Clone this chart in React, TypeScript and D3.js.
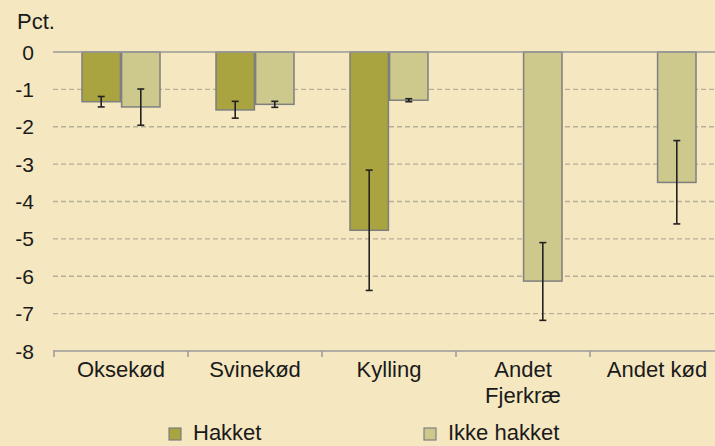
import { useEffect, useRef } from "react";
import * as d3 from "d3";

const categories = ["Oksekød", "Svinekød", "Kylling", "Andet\nFjerkræ", "Andet kød"];
const seriesNames = ["Hakket", "Ikke hakket"];
// mean change (pct.) and error-bar ends
const hakket: (number | null)[] = [-1.33, -1.55, -4.77, null, null];
const hakketLow: (number | null)[] = [-1.47, -1.77, -6.38, null, null];
const hakketHigh: (number | null)[] = [-1.19, -1.32, -3.16, null, null];
const ikkeHakket: (number | null)[] = [-1.47, -1.4, -1.29, -6.13, -3.49];
const ikkeLow: (number | null)[] = [-1.96, -1.48, -1.33, -7.18, -4.6];
const ikkeHigh: (number | null)[] = [-0.99, -1.32, -1.25, -5.1, -2.37];
const yTicks = [0, -1, -2, -3, -4, -5, -6, -7, -8];

const W = 715;
const H = 446;
const colors = ["#A9A43F", "#CDC98D"];
const font = "'Liberation Sans', Arial, sans-serif";

export default function App() {
  const ref = useRef<SVGSVGElement | null>(null);

  useEffect(() => {
    const svg = d3.select(ref.current);
    svg.selectAll("*").remove();

    svg.append("rect").attr("width", W).attr("height", H).attr("fill", "#F5E7C0");

    const y = d3.scaleLinear().domain([-8, 0]).range([351, 52]);
    const x = d3.scaleBand<string>().domain(categories).range([54, 54 + 5 * 134]);
    const sub = d3.scaleBand<string>().domain(seriesNames).range([28, 106]).paddingInner(0.03);

    // gridlines
    yTicks.forEach((t) => {
      if (t === 0 || t === -8) return;
      svg.append("line")
        .attr("x1", 53).attr("x2", W)
        .attr("y1", y(t)).attr("y2", y(t))
        .attr("stroke", "#B8AF98")
        .attr("stroke-width", 1.3)
        .attr("stroke-dasharray", "5 3");
    });

    // y labels
    yTicks.forEach((t) => {
      svg.append("text")
        .attr("x", 34).attr("y", y(t) + 7.5)
        .attr("text-anchor", "end")
        .attr("font-family", font).attr("font-size", 21)
        .attr("fill", "#1a1a1a")
        .text(String(t));
    });
    svg.append("text")
      .attr("x", 17).attr("y", 29)
      .attr("font-family", font).attr("font-size", 22)
      .attr("fill", "#1a1a1a")
      .text("Pct.");

    // bottom axis
    svg.append("line")
      .attr("x1", 53).attr("x2", W)
      .attr("y1", y(-8)).attr("y2", y(-8))
      .attr("stroke", "#9A9A9A").attr("stroke-width", 1.5);
    categories.forEach((c) => {
      const x0 = x(c) ?? 0;
      svg.append("line")
        .attr("x1", x0).attr("x2", x0)
        .attr("y1", y(-8)).attr("y2", y(-8) + 6)
        .attr("stroke", "#9A9A9A").attr("stroke-width", 1.5);
      const lines = c.split("\n");
      lines.forEach((ln, i) => {
        svg.append("text")
          .attr("x", x0 + x.bandwidth() / 2)
          .attr("y", 377 + i * 26)
          .attr("text-anchor", "middle")
          .attr("font-family", font).attr("font-size", 22)
          .attr("fill", "#1a1a1a")
          .text(ln);
      });
    });

    // bars
    const series = [
      { name: seriesNames[0], v: hakket, lo: hakketLow, hi: hakketHigh },
      { name: seriesNames[1], v: ikkeHakket, lo: ikkeLow, hi: ikkeHigh },
    ];
    series.forEach((s, si) => {
      categories.forEach((c, ci) => {
        const v = s.v[ci];
        if (v == null) return;
        const bx = (x(c) ?? 0) + (sub(s.name) ?? 0);
        svg.append("rect")
          .attr("x", bx).attr("y", y(0))
          .attr("width", sub.bandwidth())
          .attr("height", y(v) - y(0))
          .attr("fill", colors[si])
          .attr("stroke", "#7F7F7F").attr("stroke-width", 1.5);
      });
    });

    // zero line
    svg.append("line")
      .attr("x1", 53).attr("x2", W)
      .attr("y1", y(0)).attr("y2", y(0))
      .attr("stroke", "#9A9A9A").attr("stroke-width", 1.5);

    // error bars
    series.forEach((s) => {
      categories.forEach((c, ci) => {
        const lo = s.lo[ci];
        const hi = s.hi[ci];
        if (lo == null || hi == null) return;
        const cx = (x(c) ?? 0) + (sub(s.name) ?? 0) + sub.bandwidth() / 2;
        const g = svg.append("g").attr("stroke", "#222").attr("stroke-width", 1.6);
        g.append("line").attr("x1", cx).attr("x2", cx).attr("y1", y(hi)).attr("y2", y(lo));
        [hi, lo].forEach((e) => {
          g.append("line").attr("x1", cx - 3.5).attr("x2", cx + 3.5).attr("y1", y(e)).attr("y2", y(e));
        });
      });
    });

    // legend
    const legendX = [169, 424];
    seriesNames.forEach((n, i) => {
      svg.append("rect")
        .attr("x", legendX[i]).attr("y", 428)
        .attr("width", 12).attr("height", 12)
        .attr("fill", colors[i])
        .attr("stroke", "#7F7F7F").attr("stroke-width", 1.2);
      svg.append("text")
        .attr("x", legendX[i] + 24).attr("y", 440)
        .attr("font-family", font).attr("font-size", 22)
        .attr("fill", "#1a1a1a")
        .text(n);
    });
  }, []);

  return (
    <div style={{ position: "fixed", left: 0, top: 0 }}>
      <svg ref={ref} width={W} height={H} style={{ display: "block" }} />
    </div>
  );
}
